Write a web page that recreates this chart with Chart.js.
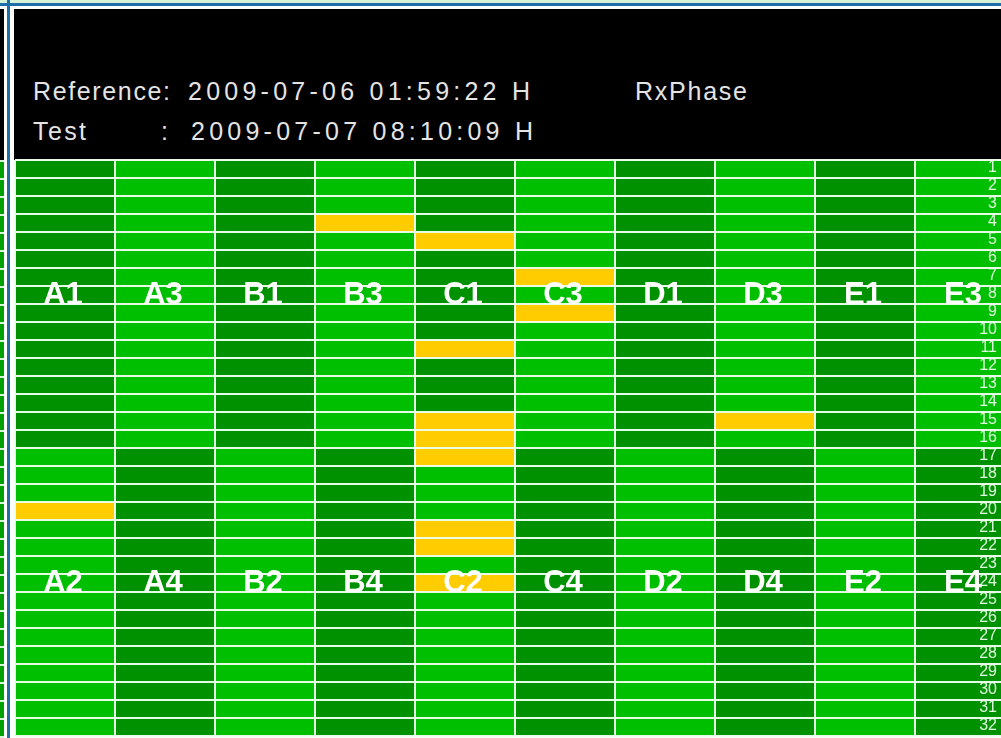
<!DOCTYPE html>
<html>
<head>
<meta charset="utf-8">
<script src="https://cdn.jsdelivr.net/npm/chart.js@4.4.1/dist/chart.umd.min.js"></script>
<style>
  html, body { margin:0; padding:0; background:#fff; width:1001px; height:738px; overflow:hidden; }
  #topstrip { position:absolute; left:0; top:0; width:1001px; height:3px; background:#d6f2d6; }
  #hblue { position:absolute; left:0; top:3px; width:1001px; height:3px; background:#1f6eaa; }
  #vblue { position:absolute; left:7px; top:0; width:3px; height:738px; background:#1f6eaa; }
  #leftblack { position:absolute; left:0; top:9px; width:4px; height:151px; background:#000; }
  #leftgreen { position:absolute; left:0; top:160px; width:4px; height:578px;
    background: repeating-linear-gradient(to bottom, #d8f5d8 0px, #d8f5d8 2px, rgb(0,160,0) 2px, rgb(0,160,0) 18px); }
  #header { position:absolute; left:14px; top:9px; width:987px; height:151px; background:#000; }
  .ht { position:absolute; white-space:pre; color:#e4e4e4; font-family:"Liberation Sans", Arial, sans-serif;
        font-size:25px; line-height:25px; }
  #wrap { position:absolute; left:0; top:0; width:1016px; height:738px; }
</style>
</head>
<body>
<div id="topstrip"></div>
<div id="hblue"></div>
<div id="vblue"></div>
<div id="leftblack"></div>
<div id="leftgreen"></div>
<div id="header"></div>
<span class="ht" style="left:33px;top:79px" data-w="137">Reference:</span>
<span class="ht" style="left:188px;top:79px" data-w="342">2009-07-06 01:59:22 H</span>
<span class="ht" style="left:635px;top:79px" data-w="112">RxPhase</span>
<span class="ht" style="left:33px;top:119px" data-w="53">Test</span>
<span class="ht" style="left:161px;top:119px" data-w="5">:</span>
<span class="ht" style="left:191px;top:119px" data-w="342">2009-07-07 08:10:09 H</span>
<div id="wrap"><canvas id="c" width="1016" height="738"></canvas></div>
<script>
// ---- data ----
const topLabels    = ['A1','A3','B1','B3','C1','C3','D1','D3','E1','E3'];
const bottomLabels = ['A2','A4','B2','B4','C2','C4','D2','D4','E2','E4'];
const rowLabels = ['1','2','3','4','5','6','7','8','9','10','11','12','13','14','15','16',
                   '17','18','19','20','21','22','23','24','25','26','27','28','29','30','31','32'];
// rows flagged (yellow) per column, rows 1-16 top block, 17-32 bottom block
const flaggedRows = [[20],[],[],[4],[5,11,15,16,17,21,22,24],[7,9],[],[15],[],[]];
const rowSpan = [1,1,1,1,1,1,1,1,1,1];   // each cell spans one row unit per column
const topLabelRow = 8;
const bottomLabelRow = 24;
const halfRows = 16;

// ---- styles ----
const DARK = 'rgb(0,145,0)';
const LIGHT = 'rgb(0,190,0)';
const YELLOW = 'rgb(255,204,0)';
const GRID = 'rgba(236,255,236,0.97)';

function cellColor(ci, row) {
  if (flaggedRows[ci].includes(row)) return YELLOW;
  const top = row <= halfRows;
  return ((ci % 2 === 0) === top) ? DARK : LIGHT;
}

const datasets = rowLabels.map((r, ri) => ({
  label: 'Row ' + r,
  data: rowSpan.slice(),
  backgroundColor: topLabels.map((_, ci) => cellColor(ci, ri + 1)),
  borderWidth: 0,
  barPercentage: 1,
  categoryPercentage: 1,
  stack: 'grid'
}));

const labelPlugin = {
  id: 'cellLabels',
  afterDraw(chart) {
    const { ctx, scales: { x, y } } = chart;
    ctx.save();
    ctx.fillStyle = '#ffffff';
    ctx.textAlign = 'center';
    ctx.textBaseline = 'middle';
    ctx.font = 'bold 31px "Liberation Sans", Arial, sans-serif';
    topLabels.forEach((l, i) => ctx.fillText(l, x.getPixelForValue(i) - 2, y.getPixelForValue(topLabelRow - 0.5)));
    bottomLabels.forEach((l, i) => ctx.fillText(l, x.getPixelForValue(i) - 2, y.getPixelForValue(bottomLabelRow - 0.5)));
    ctx.font = '16px "Liberation Sans", Arial, sans-serif';
    ctx.fillStyle = 'rgba(235,255,235,0.95)';
    ctx.textAlign = 'right';
    const xr = x.getPixelForValue(topLabels.length - 1) + 32;
    rowLabels.forEach((r, i) => ctx.fillText(r, xr, y.getPixelForValue(i + 0.5) - 1));
    ctx.restore();
  }
};

new Chart(document.getElementById('c'), {
  type: 'bar',
  data: { labels: topLabels, datasets },
  options: {
    responsive: false,
    animation: false,
    devicePixelRatio: 1,
    layout: { padding: { left: 15, top: 160, right: 1, bottom: 2 } },
    plugins: { legend: { display: false }, tooltip: { enabled: false } },
    scales: {
      x: {
        stacked: true,
        grid: { color: GRID, lineWidth: 2, drawTicks: false, offset: true, z: 1 },
        ticks: { display: false },
        border: { display: false },
        afterFit(s) { s.height = 0; }
      },
      y: {
        stacked: true, reverse: true, min: 0, max: rowLabels.length,
        grid: { color: GRID, lineWidth: 2, drawTicks: false, z: 1 },
        ticks: { display: false, stepSize: 1 },
        border: { display: false },
        afterFit(s) { s.width = 0; }
      }
    }
  },
  plugins: [labelPlugin]
});

// fit header text widths with letter spacing
const mctx = document.createElement('canvas').getContext('2d');
document.querySelectorAll('.ht').forEach(el => {
  const cs = getComputedStyle(el);
  mctx.font = cs.fontSize + ' ' + cs.fontFamily;
  const t = el.textContent;
  if (t.length < 2) return;
  const w = mctx.measureText(t).width;
  el.style.letterSpacing = ((+el.dataset.w - w) / (t.length - 1)) + 'px';
});
</script>
</body>
</html>
